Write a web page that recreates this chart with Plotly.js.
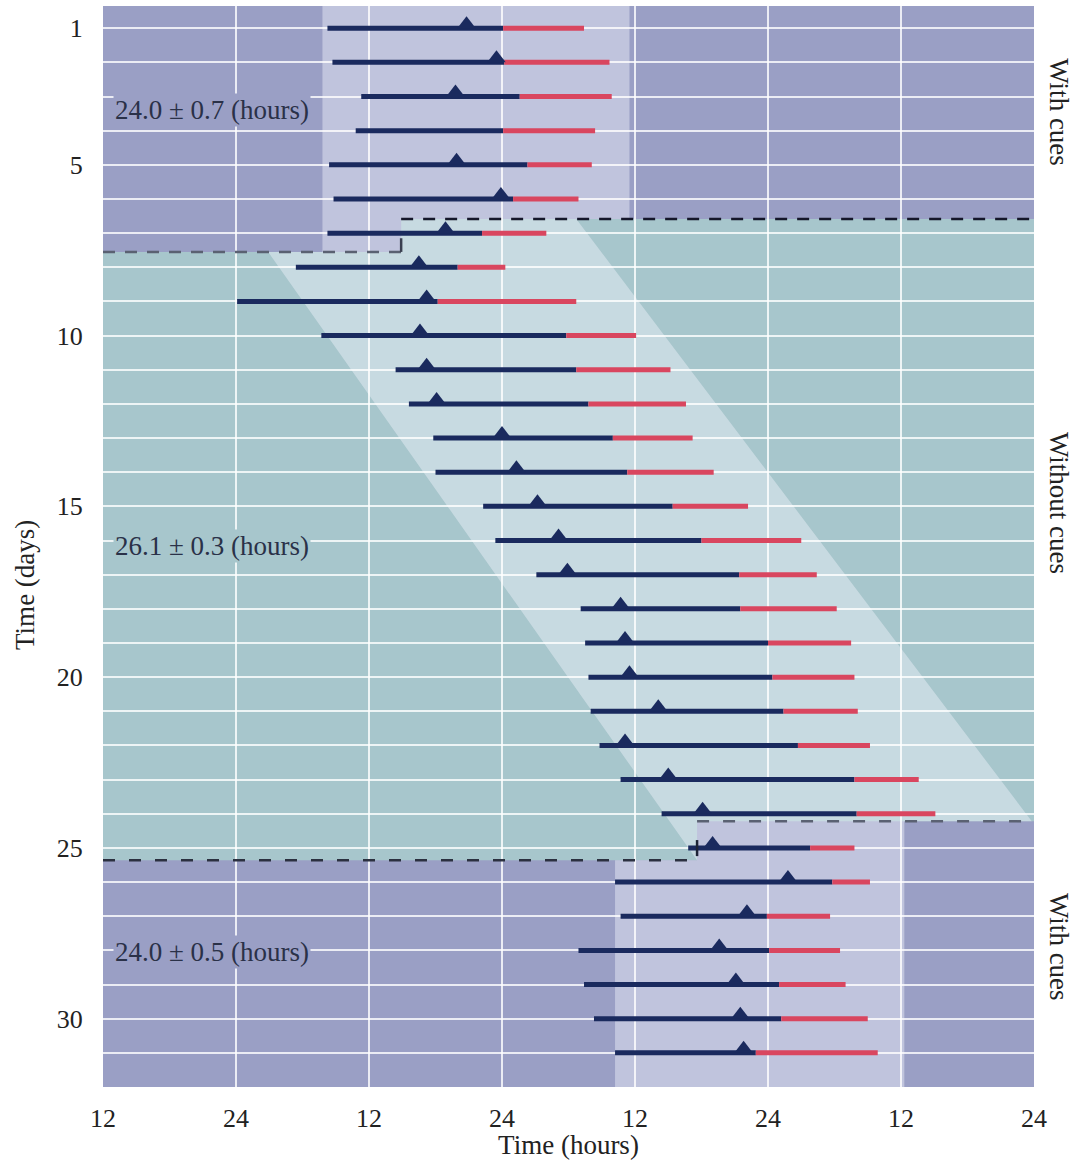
<!DOCTYPE html>
<html>
<head>
<meta charset="utf-8">
<script src="https://cdn.plot.ly/plotly-3.0.1.min.js"></script>
<style>html,body{margin:0;padding:0;background:#fff}#chart{width:1077px;height:1160px}</style>
</head>
<body>
<div id="chart"></div>
<script>
// ---- data (hours from the left edge = noon of day 0; days top->bottom) ----
const days = [1,2,3,4,5,6,7,8,9,10,11,12,13,14,15,16,17,18,19,20,21,22,23,24,25,26,27,28,29,30,31];
const activeStart = [20.25,20.7,23.3,22.8,20.4,20.8,20.25,17.4,12.1,19.7,26.4,27.6,29.8,30.0,34.3,35.4,39.1,43.1,43.5,43.8,44.0,44.8,46.7,50.4,52.8,46.2,46.7,42.9,43.4,44.3,46.2];
const activeSwitch = [36.1,36.2,37.6,36.1,38.3,37.0,34.2,32.0,30.2,41.8,42.7,43.8,46.0,47.3,51.4,54.0,57.4,57.5,60.0,60.4,61.4,62.7,67.8,68.0,63.8,65.8,59.9,60.1,61.0,61.2,58.9];
const activeEnd = [43.4,45.7,45.9,44.4,44.1,42.9,40.0,36.3,42.7,48.1,51.2,52.6,53.2,55.1,58.2,63.0,64.4,66.2,67.5,67.8,68.1,69.2,73.6,75.1,67.8,69.2,65.6,66.5,67.0,69.0,69.9];
const peakTime = [32.8,35.5,31.8,null,31.9,35.9,30.9,28.5,29.2,28.6,29.2,30.1,36.0,37.3,39.2,41.1,41.9,46.7,47.1,47.5,50.1,47.1,51.0,54.1,55.0,61.8,58.1,55.6,57.1,57.5,57.8];

const hourTickVals = [0,12,24,36,48,60,72,84];
const hourTickLabels = ['12','24','12','24','12','24','12','24'];
const dayTickLabelled = [1,5,10,15,20,25,30];

// regions (hours, days)
const freeRunX = [0,26.9,26.9,84,84,53.6,53.6,0];
const freeRunY = [7.55,7.55,6.585,6.585,24.22,24.22,25.36,25.36];
const bandX = [19.8,47.5,47.5,42.7,83.8,72.3,72.3,46.2,46.2,53.6,14.9,19.8];
const bandY = [0.35,0.35,6.585,6.585,24.22,24.22,32,32,25.36,25.36,7.55,7.55];

const periodLabels = ['24.0 \u00b1 0.7 (hours)','26.1 \u00b1 0.3 (hours)','24.0 \u00b1 0.5 (hours)'];
const periodLabelDays = [3.4,16.17,28.06];
const conditionLabels = ['With cues','Without cues','With cues'];
const conditionDays = [3.46,14.9,27.9];

// ---- styles ----
const PURPLE = 'rgb(154,159,197)';
const TEAL = 'rgb(167,198,204)';
const NAVY = '#1a2a5e';
const RED = '#d9465f';
const FONT = 'Liberation Serif, Times New Roman, serif';

function poly(xs, ys){
  let p = '';
  for (let i=0;i<xs.length;i++){ p += (i===0?'M':'L') + xs[i] + ',' + ys[i]; }
  return p + 'Z';
}

const darkX=[], darkY=[], redX=[], redY=[];
days.forEach((d,i)=>{
  darkX.push(activeStart[i], activeSwitch[i], null); darkY.push(d,d,null);
  redX.push(activeSwitch[i], activeEnd[i], null); redY.push(d,d,null);
});

const TRI = 16;
const triLift = (TRI/4) / 34.15; // put the triangle base on the bar
const traces = [
  {type:'scatter', mode:'lines', x:darkX, y:darkY, line:{color:NAVY,width:5}, hoverinfo:'skip', showlegend:false},
  {type:'scatter', mode:'lines', x:redX, y:redY, line:{color:RED,width:5}, hoverinfo:'skip', showlegend:false},
  {type:'scatter', mode:'markers', x:peakTime, y:days.map(d=>d-triLift),
   marker:{symbol:'triangle-up', size:TRI, color:NAVY}, showlegend:false}
];

const shapes = [
  {type:'path', xref:'x', yref:'y', path:poly(freeRunX,freeRunY), fillcolor:TEAL, line:{width:0}, layer:'below'},
  {type:'path', xref:'x', yref:'y', path:poly(bandX,bandY), fillcolor:'rgba(240,242,250,0.45)', line:{width:0}, layer:'below'},
  // transitions
  {type:'line', xref:'x', yref:'y', x0:26.9, x1:84, y0:6.585, y1:6.585, line:{color:'#15172a',width:2.5,dash:'12px,10px'}, layer:'above'},
  {type:'line', xref:'x', yref:'y', x0:0, x1:26.9, y0:7.55, y1:7.55, line:{color:'#5a6172',width:2.5,dash:'12px,10px'}, layer:'above'},
  {type:'line', xref:'x', yref:'y', x0:26.9, x1:26.9, y0:7.15, y1:7.55, line:{color:'#3a3f50',width:2.5}, layer:'above'},
  {type:'line', xref:'x', yref:'y', x0:53.6, x1:84, y0:24.22, y1:24.22, line:{color:'#5a6172',width:2.5,dash:'12px,14px'}, layer:'above'},
  {type:'line', xref:'x', yref:'y', x0:0, x1:52.8, y0:25.36, y1:25.36, line:{color:'#2b3040',width:2.5,dash:'12px,14px'}, layer:'above'},
  {type:'line', xref:'x', yref:'y', x0:53.6, x1:53.6, y0:24.77, y1:25.24, line:{color:'#1d2436',width:2.5}, layer:'above'}
];

const annotations = [];
periodLabels.forEach((t,i)=>{
  annotations.push({xref:'x', yref:'y', x:0.9, y:periodLabelDays[i], xanchor:'left', yanchor:'middle',
    text:t, showarrow:false, font:{family:FONT,size:27,color:'#2a3148'},
    bgcolor: i===1 ? TEAL : PURPLE, borderpad:1});
});
conditionLabels.forEach((t,i)=>{
  annotations.push({xref:'paper', yref:'y', x:1, y:conditionDays[i], xanchor:'center', yanchor:'middle', xshift:25,
    text:t, textangle:90, showarrow:false, font:{family:FONT,size:27,color:'#222'}});
});
annotations.push({xref:'paper', yref:'y', x:0, y:17.3, xanchor:'center', yanchor:'middle', xshift:-78,
  text:'Time (days)', textangle:-90, showarrow:false, font:{family:FONT,size:27,color:'#222'}});

const layout = {
  width:1077, height:1160,
  margin:{l:103, r:43, t:6, b:73},
  paper_bgcolor:'#ffffff', plot_bgcolor:PURPLE,
  font:{family:FONT, color:'#222'},
  xaxis:{range:[0,84], tickmode:'array', tickvals:hourTickVals, ticktext:hourTickLabels,
    showgrid:true, gridcolor:'rgba(255,255,255,0.8)', gridwidth:2, zeroline:false, showline:false,
    ticks:'outside', ticklen:8, tickcolor:'rgba(0,0,0,0)', tickfont:{family:FONT,size:26,color:'#222'},
    title:{text:'Time (hours)', font:{family:FONT,size:27,color:'#222'}, standoff:0}},
  yaxis:{range:[32,0.35], tickmode:'array', tickvals:days,
    ticktext:days.map(d=> dayTickLabelled.includes(d) ? String(d) : ''),
    showgrid:true, gridcolor:'rgba(255,255,255,0.8)', gridwidth:2, zeroline:false, showline:false,
    ticks:'outside', ticklen:14, tickcolor:'rgba(0,0,0,0)', tickfont:{family:FONT,size:26,color:'#222'}},
  shapes:shapes, annotations:annotations, showlegend:false
};

Plotly.newPlot('chart', traces, layout, {staticPlot:true, displayModeBar:false});
</script>
</body>
</html>
